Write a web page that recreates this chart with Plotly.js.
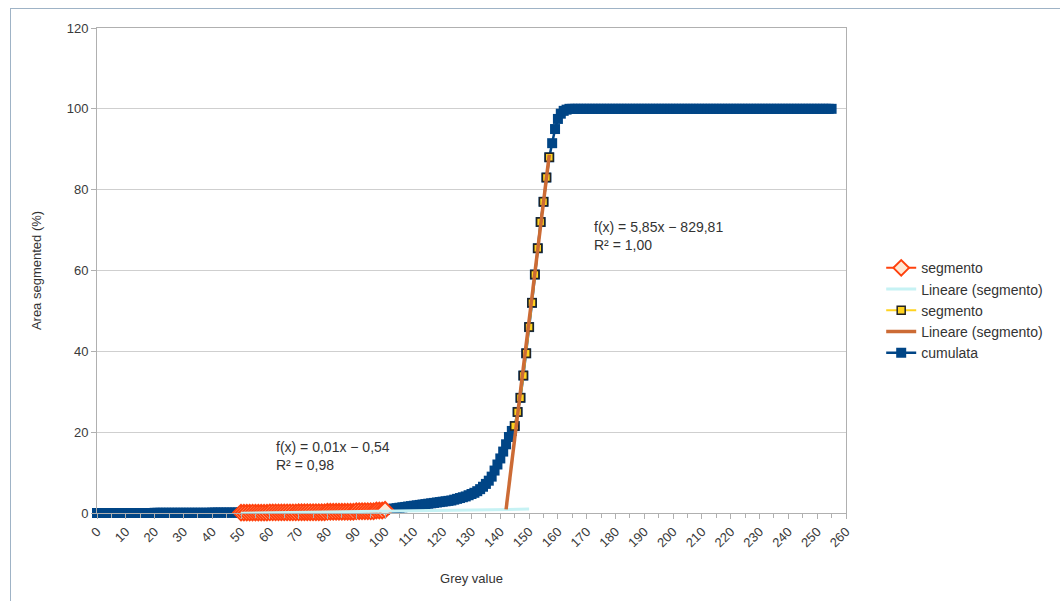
<!DOCTYPE html>
<html>
<head>
<meta charset="utf-8">
<script src="https://cdn.plot.ly/plotly-3.0.1.min.js"></script>
<style>
html,body{margin:0;padding:0;background:#fff;overflow:hidden;}
#chart{width:1060px;height:601px;position:absolute;left:0;top:0;}
#frame{position:absolute;left:10px;top:8px;width:1100px;height:700px;border:1px solid #9fb3c6;pointer-events:none;}
</style>
</head>
<body>
<div id="chart"></div>
<div id="frame"></div>
<script>
// ---- data ----
function range(a, b) { var r = []; for (var i = a; i <= b; i++) r.push(i); return r; }

var cumulataX = range(0, 255);
var cumulataY = [
  0,0,0,0,0,0,0,0,0,0, 0,0,0,0,0,0,0,0,0,0,
  0.05,0.05,0.05,0.05,0.05,0.05,0.05,0.05,0.05,0.05, 0.05,0.05,0.05,0.05,0.05,0.05,0.05,0.05,0.05,0.05,
  0.1,0.1,0.1,0.1,0.1,0.1,0.1,0.1,0.1,0.1,
  0.1,0.1,0.1,0.1,0.1,0.1,0.1,0.1,0.1,0.1,
  0.15,0.15,0.15,0.15,0.15,0.15,0.15,0.15,0.15,0.15,
  0.2,0.2,0.2,0.2,0.2,0.2,0.2,0.2,0.2,0.2,
  0.3,0.3,0.3,0.3,0.3,0.3,0.3,0.3,0.3,0.3,
  0.45,0.45,0.45,0.45,0.45,0.45,0.45, 0.6,0.6,0.6,
  0.8,
  1.0,1.0,1.1,1.2,1.3,1.4,1.5,1.6,1.7,1.8,
  1.9,2.0,2.1,2.2,2.3,2.4,2.5,2.6,2.7,2.8,
  2.9,3.0,3.1,3.3,3.5,3.7,3.9,4.1,4.4,4.7,
  5.0,5.4,5.9,6.5,7.2,8.0,9.0,10.5,12.0,13.5,
  15.2,17.0,18.8,20.3,
  21.5,25,28.5,34,39.5,46,52,59,65.5,72,77,83,88,
  91.5,95,97.5,98.8,99.5,99.8,
  100,100,100,100,100,100,100,100,100,100, 100,100,100,100,100,100,100,100,100,100,
  100,100,100,100,100,100,100,100,100,100, 100,100,100,100,100,100,100,100,100,100,
  100,100,100,100,100,100,100,100,100,100, 100,100,100,100,100,100,100,100,100,100,
  100,100,100,100,100,100,100,100,100,100, 100,100,100,100,100,100,100,100,100,100,
  100,100,100,100,100,100,100,100,100,100, 100,100
];

var segmento1X = range(50, 100);
var segmento1Y = [
  0.1,0.1,0.1,0.1,0.1,0.1,0.1,0.1,0.1,0.1,
  0.15,0.15,0.15,0.15,0.15,0.15,0.15,0.15,0.15,0.15,
  0.2,0.2,0.2,0.2,0.2,0.2,0.2,0.2,0.2,0.2,
  0.3,0.3,0.3,0.3,0.3,0.3,0.3,0.3,0.3,0.3,
  0.45,0.45,0.45,0.45,0.45,0.45,0.45, 0.6,0.6,0.6,
  0.8
];

var segmento2X = [145,146,147,148,149,150,151,152,153,154,155,156,157];
var segmento2Y = [21.5,25,28.5,34,39.5,46,52,59,65.5,72,77,83,88];

var trend1X = [50, 150];
var trend1Y = [-0.04, 0.96];
var trend2X = [142, 157];
var trend2Y = [0.89, 88.64];

var xTicks = range(0, 26).map(function (i) { return i * 10; });
var yTicks = [0, 20, 40, 60, 80, 100, 120];

// ---- traces ----
var traces = [
  {
    name: 'cumulata', x: cumulataX, y: cumulataY, type: 'scatter', mode: 'lines+markers',
    line: {color: '#004586', width: 2.5},
    marker: {symbol: 'square', size: 10, color: '#004586'},
    cliponaxis: false, legendrank: 5
  },
  {
    name: 'segmento', x: segmento1X, y: segmento1Y, type: 'scatter', mode: 'lines+markers',
    line: {color: '#ff420e', width: 2},
    marker: {symbol: 'diamond', size: 12, color: '#ffe8d4', line: {color: '#ff420e', width: 2}},
    cliponaxis: false, legendrank: 1
  },
  {
    name: 'Lineare (segmento)', x: trend1X, y: trend1Y, type: 'scatter', mode: 'lines',
    line: {color: '#c6f2f4', width: 3},
    cliponaxis: false, legendrank: 2
  },
  {
    name: 'segmento', x: segmento2X, y: segmento2Y, type: 'scatter', mode: 'lines+markers',
    line: {color: '#ffd320', width: 2},
    marker: {symbol: 'square', size: 8, color: '#ffd320', line: {color: '#222222', width: 1.5}},
    cliponaxis: false, legendrank: 3
  },
  {
    name: 'Lineare (segmento)', x: trend2X, y: trend2Y, type: 'scatter', mode: 'lines',
    line: {color: '#cc6b35', width: 3.5},
    cliponaxis: false, legendrank: 4
  }
];

var tickFont = {family: 'Liberation Sans, Arial, sans-serif', size: 13, color: '#3a3a3a'};

var layout = {
  width: 1060, height: 601,
  margin: {l: 97, r: 212, t: 28, b: 88},
  paper_bgcolor: 'rgba(0,0,0,0)', plot_bgcolor: '#ffffff',
  font: {family: 'Liberation Sans, Arial, sans-serif', size: 13, color: '#333333'},
  showlegend: true,
  legend: {
    x: 1.047, xanchor: 'left', y: 0.418, yanchor: 'middle',
    bgcolor: 'rgba(0,0,0,0)', font: {size: 14, color: '#333333'},
    traceorder: 'normal'
  },
  xaxis: {
    range: [0, 260], tickmode: 'array', tickvals: xTicks, ticktext: xTicks.map(String),
    tickangle: -45, tickfont: tickFont,
    ticks: 'outside', ticklen: 5, tickcolor: '#b0b0b0',
    minor: {dtick: 5, ticks: 'outside', ticklen: 4, tickcolor: '#b0b0b0', showgrid: false},
    showgrid: false, zeroline: false,
    showline: true, linecolor: '#b0b0b0', linewidth: 1, mirror: true,
    title: {text: 'Grey value', font: {size: 13, color: '#333333'}, standoff: 24},
    automargin: false
  },
  yaxis: {
    range: [0, 120], tickmode: 'array', tickvals: yTicks, tickfont: tickFont,
    ticks: 'outside', ticklen: 5, tickcolor: '#b0b0b0',
    showgrid: true, gridcolor: '#cfcfcf', gridwidth: 1, zeroline: false,
    showline: true, linecolor: '#b0b0b0', linewidth: 1, mirror: true,
    title: {text: 'Area segmented (%)', font: {size: 13, color: '#333333'}, standoff: 22},
    automargin: false
  },
  annotations: [
    {
      xref: 'x', yref: 'y', x: 171.7, y: 73.2, xanchor: 'left', yanchor: 'top', align: 'left',
      showarrow: false, text: 'f(x) = 5,85x − 829,81<br>R² = 1,00',
      font: {size: 14, color: '#333333'}
    },
    {
      xref: 'x', yref: 'y', x: 61.6, y: 18.8, xanchor: 'left', yanchor: 'top', align: 'left',
      showarrow: false, text: 'f(x) = 0,01x − 0,54<br>R² = 0,98',
      font: {size: 14, color: '#333333'}
    }
  ]
};

Plotly.newPlot('chart', traces, layout, {displayModeBar: false, staticPlot: true});
</script>
</body>
</html>
